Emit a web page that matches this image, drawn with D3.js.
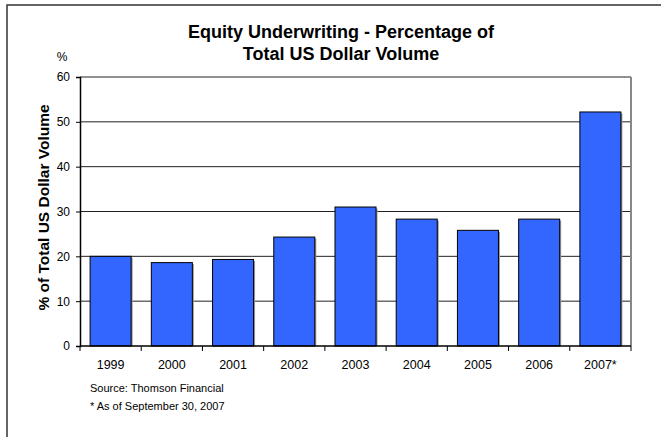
<!DOCTYPE html>
<html>
<head>
<meta charset="utf-8">
<script src="https://cdn.jsdelivr.net/npm/d3@7"></script>
<style>
  body { margin: 0; background: #fff; }
  svg { font-family: "Liberation Sans", Arial, sans-serif; }
</style>
</head>
<body>
<svg id="chart" width="661" height="437"></svg>
<script>
// chart data
const years = ['1999', '2000', '2001', '2002', '2003', '2004', '2005', '2006', '2007*'];
const shares = [20.0, 18.6, 19.3, 24.3, 31.0, 28.3, 25.8, 28.3, 52.2];
const yTicks = [0, 10, 20, 30, 40, 50, 60];
const titleLines = ['Equity Underwriting - Percentage of', 'Total US Dollar Volume'];
const notes = ['Source: Thomson Financial', '* As of September 30, 2007'];

const svg = d3.select('#chart');
const margin = { top: 77, right: 30, bottom: 91, left: 80 };
const width = 661 - margin.left - margin.right;
const height = 437 - margin.top - margin.bottom;

// outer frame (only top/left visible, rest is cropped)
svg.append('rect')
  .attr('x', 7).attr('y', 5)
  .attr('width', 700).attr('height', 500)
  .attr('fill', 'none')
  .attr('stroke', '#333')
  .attr('stroke-width', 1.5);

const g = svg.append('g').attr('transform', `translate(${margin.left},${margin.top})`);

const x = d3.scaleBand().domain(years).range([0, width]).paddingInner(0.33).paddingOuter(0.165);
const y = d3.scaleLinear().domain([0, 60]).range([height, 0]);

// gridlines
g.selectAll('line.grid')
  .data(yTicks.filter(d => d > 0))
  .join('line')
  .attr('class', 'grid')
  .attr('x1', 0).attr('x2', width)
  .attr('y1', d => y(d)).attr('y2', d => y(d))
  .attr('stroke', '#222')
  .attr('stroke-width', 1);

// right border of plot area
g.append('line')
  .attr('x1', width).attr('x2', width)
  .attr('y1', 0).attr('y2', height)
  .attr('stroke', '#888')
  .attr('stroke-width', 2);

// bar shadows
g.selectAll('rect.shadow')
  .data(shares)
  .join('rect')
  .attr('class', 'shadow')
  .attr('x', (d, i) => x(years[i]) + 1.5)
  .attr('y', d => y(d) + 1.5)
  .attr('width', x.bandwidth())
  .attr('height', d => height - y(d) - 1.5)
  .attr('fill', '#999');

// bars
g.selectAll('rect.bar')
  .data(shares)
  .join('rect')
  .attr('class', 'bar')
  .attr('x', (d, i) => x(years[i]))
  .attr('y', d => y(d))
  .attr('width', x.bandwidth())
  .attr('height', d => height - y(d))
  .attr('fill', '#3366FF')
  .attr('stroke', '#000')
  .attr('stroke-width', 1);

// y axis
const yAxis = g.append('g')
  .call(d3.axisLeft(y).tickValues(yTicks).tickSize(4).tickPadding(6));
yAxis.select('.domain').attr('stroke', '#000').attr('stroke-width', 1.5);
yAxis.selectAll('text').attr('font-size', 12).attr('fill', '#000')
  .attr('font-family', '"Liberation Sans", Arial, sans-serif');

// x axis, ticks between categories
const xAxisG = g.append('g').attr('transform', `translate(0,${height})`);
xAxisG.append('line')
  .attr('x1', 0).attr('x2', width)
  .attr('stroke', '#000').attr('stroke-width', 1.5);
const step = width / years.length;
xAxisG.selectAll('line.tick')
  .data(d3.range(years.length + 1))
  .join('line')
  .attr('class', 'tick')
  .attr('x1', d => d * step).attr('x2', d => d * step)
  .attr('y1', 0).attr('y2', 5)
  .attr('stroke', '#000');
xAxisG.selectAll('text')
  .data(years)
  .join('text')
  .attr('x', d => x(d) + x.bandwidth() / 2)
  .attr('y', 23)
  .attr('text-anchor', 'middle')
  .attr('font-size', 12.5)
  .text(d => d);

// title
svg.append('g').selectAll('text')
  .data(titleLines)
  .join('text')
  .attr('x', 341)
  .attr('y', (d, i) => 38 + i * 22)
  .attr('text-anchor', 'middle')
  .attr('font-size', 18)
  .attr('font-weight', 'bold')
  .text(d => d);

// unit label
svg.append('text')
  .attr('x', 62).attr('y', 61)
  .attr('text-anchor', 'middle')
  .attr('font-size', 12)
  .text('%');

// y axis title
svg.append('text')
  .attr('transform', `translate(49,${margin.top + height / 2 - 4}) rotate(-90)`)
  .attr('text-anchor', 'middle')
  .attr('font-size', 15.5)
  .attr('font-weight', 'bold')
  .text('% of Total US Dollar Volume');

// footnotes
svg.append('g').selectAll('text')
  .data(notes)
  .join('text')
  .attr('x', 90)
  .attr('y', (d, i) => 392 + i * 18)
  .attr('font-size', 11)
  .text(d => d);
</script>
</body>
</html>
